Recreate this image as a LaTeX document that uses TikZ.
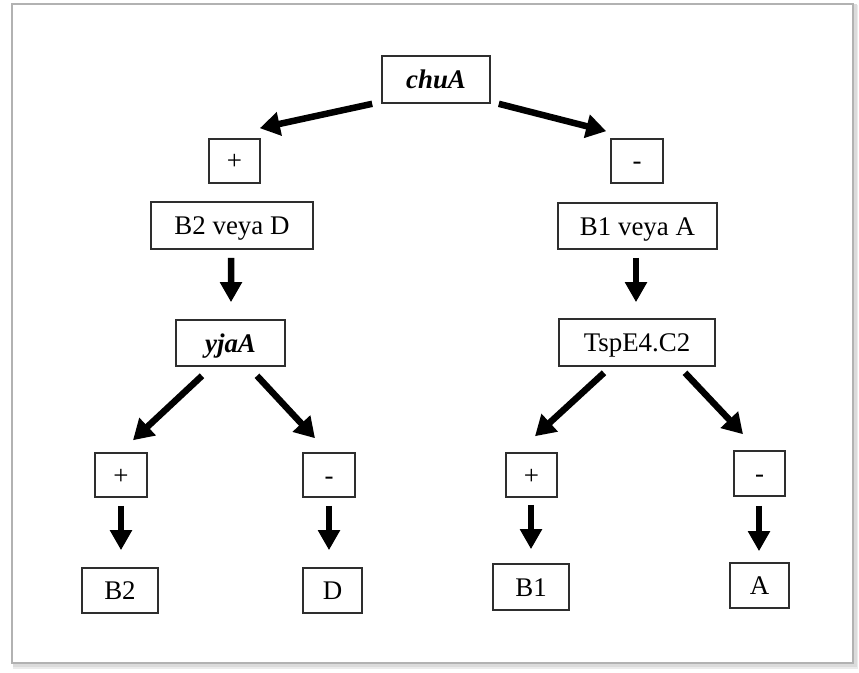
\documentclass[tikz,border=0pt]{standalone}
\usepackage{fontspec}
\setmainfont{Liberation Serif}
\usetikzlibrary{arrows.meta}
\definecolor{boxline}{HTML}{2E2E2E}
\tikzset{
  gbox/.style={draw=boxline, line width=1.6bp, fill=white, inner sep=0pt, text height=20bp, text depth=2bp, font=\fontsize{27}{30}\selectfont},
  gene/.style={gbox, font=\fontsize{27}{30}\selectfont\bfseries\itshape},
  arr/.style={line width=6.5bp, -{Triangle[length=20bp,width=23bp]}},
  varr/.style={line width=6.5bp, -{Triangle[length=20bp,width=21bp]}}
}
\begin{document}
\begin{tikzpicture}[x=1bp,y=-1bp]
\useasboundingbox (0,0) rectangle (859,673);
% frame with soft shadow
\draw[line width=4bp, black!8] (15,7) rectangle (856,667);
\draw[line width=3bp, black!14] (14,6) rectangle (855,665);
\draw[line width=1.8bp, black!30, fill=white] (12,4) rectangle (853,663);

% nodes
\node[gene, minimum width=108bp, minimum height=47bp] (chuA) at (436,79.5) {chuA};
\node[gbox, minimum width=51bp, minimum height=44bp] (p1) at (234.5,161) {+};
\node[gbox, minimum width=52bp, minimum height=44bp] (m1) at (637,161) {-};
\node[gbox, minimum width=162bp, minimum height=47bp] (B2D) at (232,225.5) {B2 veya D};
\node[gbox, minimum width=159bp, minimum height=46bp] (B1A) at (637.5,226) {B1 veya A};
\node[gene, minimum width=109bp, minimum height=46bp] (yjaA) at (230.5,343) {yjaA};
\node[gbox, minimum width=156bp, minimum height=47bp] (Tsp) at (637,342.5) {TspE4.C2};
\node[gbox, minimum width=52bp, minimum height=44bp] (p2) at (121,475) {+};
\node[gbox, minimum width=52bp, minimum height=44bp] (m2) at (329,475) {-};
\node[gbox, minimum width=51bp, minimum height=44bp] (p3) at (531.5,475) {+};
\node[gbox, minimum width=51bp, minimum height=45bp] (m3) at (759.5,473.5) {-};
\node[gbox, minimum width=76bp, minimum height=45bp] (B2) at (120,590.5) {B2};
\node[gbox, minimum width=59bp, minimum height=45bp] (D) at (332.5,590.5) {D};
\node[gbox, minimum width=76bp, minimum height=46bp] (B1) at (531,587) {B1};
\node[gbox, minimum width=59bp, minimum height=45bp] (A) at (759.5,585.5) {A};

% connectors
\draw[arr] ([shift={(-9,0)}]chuA.south west) -- ([shift={(-1,-10)}]p1.north east);
\draw[arr] ([shift={(8,0)}]chuA.south east) -- ([shift={(-4,-7)}]m1.north west);
\draw[varr] ([shift={(-1,8)}]B2D.south) -- ([shift={(0.5,-17)}]yjaA.north);
\draw[varr] ([shift={(-1.5,8)}]B1A.south) -- ([shift={(-1,-16)}]Tsp.north);
\draw[arr] ([shift={(-28.5,9)}]yjaA.south) -- ([shift={(12,-12)}]p2.north);
\draw[arr] ([shift={(26.5,9)}]yjaA.south) -- ([shift={(-14,-14)}]m2.north);
\draw[arr] ([shift={(-33,6)}]Tsp.south) -- ([shift={(3.5,-16)}]p3.north);
\draw[arr] ([shift={(48,6)}]Tsp.south) -- ([shift={(-16.5,-16)}]m3.north);
\draw[varr] ([shift={(0,8)}]p2.south) -- ([shift={(1,-17)}]B2.north);
\draw[varr] ([shift={(0,8)}]m2.south) -- ([shift={(-3.5,-17)}]D.north);
\draw[varr] ([shift={(-0.5,7)}]p3.south) -- ([shift={(0,-14)}]B1.north);
\draw[varr] ([shift={(-0.5,9)}]m3.south) -- ([shift={(-0.5,-11)}]A.north);
\end{tikzpicture}
\end{document}
